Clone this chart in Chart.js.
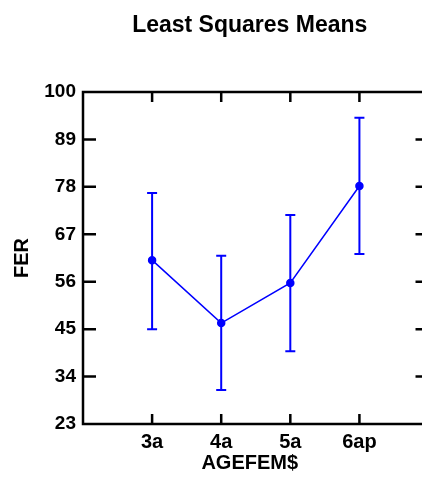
<!DOCTYPE html>
<html>
<head>
<meta charset="utf-8">
<script src="https://cdn.jsdelivr.net/npm/chart.js@4.4.1/dist/chart.umd.min.js"></script>
<style>
  html, body { margin: 0; padding: 0; background: #fff; }
  #wrap { width: 422px; height: 477px; }
</style>
</head>
<body>
<div id="wrap"><canvas id="lsm"></canvas></div>
<script>
const groups = ['3a', '4a', '5a', '6ap'];
const means = [61.0, 46.4, 55.7, 78.2];
const upper = [76.6, 62.0, 71.5, 94.0];
const lower = [45.0, 30.9, 39.9, 62.4];
const yTicks = [23, 34, 45, 56, 67, 78, 89, 100];

const blue = 'rgb(0,0,255)';
const font = 'Liberation Sans';

// error bars with caps, drawn on the data's own scales
const errorBars = {
  id: 'errorBars',
  afterDatasetsDraw(chart) {
    const { ctx, scales: { x, y } } = chart;
    ctx.save();
    ctx.strokeStyle = blue;
    ctx.lineWidth = 2;
    groups.forEach((g, i) => {
      const px = x.getPixelForValue(i + 1);
      const top = y.getPixelForValue(upper[i]);
      const bot = y.getPixelForValue(lower[i]);
      ctx.beginPath();
      ctx.moveTo(px, top); ctx.lineTo(px, bot);
      ctx.moveTo(px - 5, top); ctx.lineTo(px + 5, top);
      ctx.moveTo(px - 5, bot); ctx.lineTo(px + 5, bot);
      ctx.stroke();
    });
    ctx.restore();
  }
};

// box frame with inward ticks on all four sides (right side runs past the canvas)
const frame = {
  id: 'frame',
  afterDraw(chart) {
    const { ctx, scales: { x, y } } = chart;
    const left = x.getPixelForValue(0);
    const right = x.getPixelForValue(5);
    const top = y.getPixelForValue(100);
    const bottom = y.getPixelForValue(23);
    ctx.save();
    ctx.strokeStyle = '#000';
    ctx.lineWidth = 2.5;
    ctx.beginPath();
    ctx.rect(left, top, right - left, bottom - top);
    yTicks.forEach(v => {
      const py = y.getPixelForValue(v);
      ctx.moveTo(left, py); ctx.lineTo(left + 13, py);
      ctx.moveTo(right, py); ctx.lineTo(right - 13, py);
    });
    groups.forEach((g, i) => {
      const px = x.getPixelForValue(i + 1);
      ctx.moveTo(px, bottom); ctx.lineTo(px, bottom - 10);
      ctx.moveTo(px, top); ctx.lineTo(px, top + 10);
    });
    ctx.stroke();
    ctx.restore();
  }
};

new Chart(document.getElementById('lsm'), {
  type: 'line',
  data: {
    datasets: [{
      data: means.map((m, i) => ({ x: i + 1, y: m })),
      borderColor: blue,
      backgroundColor: blue,
      borderWidth: 1.5,
      pointRadius: 3.5,
      pointBackgroundColor: blue,
      pointBorderColor: blue,
      tension: 0
    }]
  },
  options: {
    responsive: true,
    maintainAspectRatio: false,
    animation: false,
    layout: { padding: 0 },
    plugins: {
      legend: { display: false },
      tooltip: { enabled: false },
      title: {
        display: true,
        text: 'Least Squares Means',
        fullSize: false,
        color: '#000',
        font: { family: font, size: 23, weight: 'bold' },
        padding: { top: 12, bottom: 52.4 }
      }
    },
    scales: {
      x: {
        type: 'linear',
        min: 0,
        max: 333 / 69,
        afterBuildTicks: s => { s.ticks = groups.map((g, i) => ({ value: i + 1 })); },
        afterFit: s => { s.height = 53; },
        grid: { display: false, drawTicks: false },
        border: { display: false },
        ticks: {
          color: '#000',
          padding: 6,
          maxRotation: 0,
          font: { family: font, size: 20, weight: 'bold' },
          callback: v => groups[v - 1]
        },
        title: {
          display: true,
          text: 'AGEFEM$',
          color: '#000',
          font: { family: font, size: 20, weight: 'bold' },
          padding: { top: 0, bottom: 2 }
        }
      },
      y: {
        min: 23,
        max: 100,
        afterBuildTicks: s => { s.ticks = yTicks.map(v => ({ value: v })); },
        afterFit: s => { s.width = 83; },
        grid: { display: false, drawTicks: false },
        border: { display: false },
        ticks: {
          color: '#000',
          padding: 7,
          font: { family: font, size: 19, weight: 'bold' }
        },
        title: {
          display: true,
          text: 'FER',
          color: '#000',
          font: { family: font, size: 20, weight: 'bold' },
          padding: { top: 10, bottom: 0 }
        }
      }
    }
  },
  plugins: [errorBars, frame]
});
</script>
</body>
</html>
